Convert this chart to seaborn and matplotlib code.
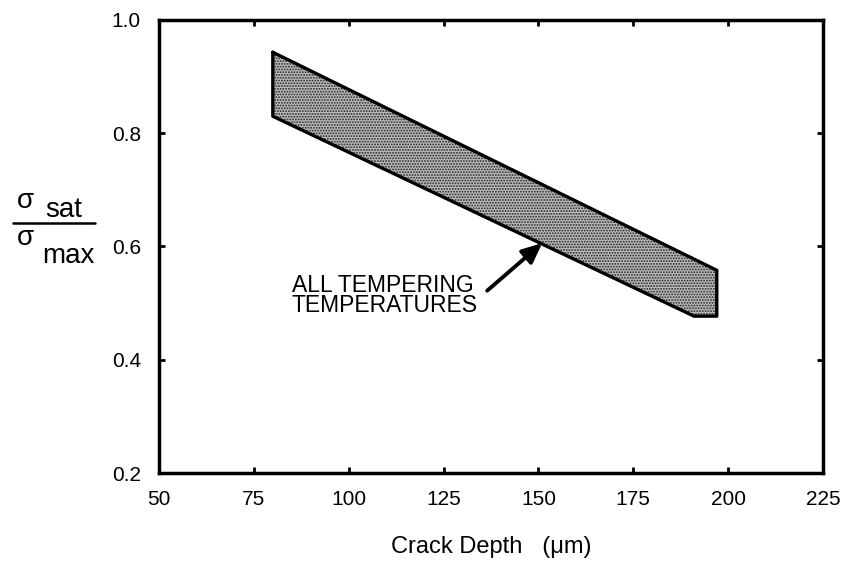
import matplotlib
matplotlib.use("Agg")
import matplotlib.pyplot as plt
import seaborn as sns
import pandas as pd
from matplotlib.lines import Line2D

# Data
upper_x = [80, 197]
upper_y = [0.943, 0.558]
lower_x = [80, 191, 197]
lower_y = [0.830, 0.477, 0.477]
x_ticks = [50, 75, 100, 125, 150, 175, 200, 225]
y_ticks = [0.2, 0.4, 0.6, 0.8, 1.0]
annot_text = "ALL TEMPERING\nTEMPERATURES"
annot_xy = (151, 0.606)
arrow_tail = (136.5, 0.522)
annot_text_xy = (85, 0.513)

sns.set_theme(style="ticks")
plt.rcParams['font.family'] = ['Liberation Sans', 'DejaVu Sans']
plt.rcParams['text.color'] = 'black'
plt.rcParams['axes.labelcolor'] = 'black'
plt.rcParams['xtick.color'] = 'black'
plt.rcParams['ytick.color'] = 'black'
plt.rcParams['hatch.linewidth'] = 0.9

fig = plt.figure(figsize=(8.47, 5.66), dpi=100)
ax = fig.add_axes([0.1877, 0.1643, 0.784, 0.8004])

# polygon of the band
poly_x = upper_x + lower_x[::-1]
poly_y = upper_y + lower_y[::-1]
ax.fill(poly_x, poly_y, facecolor="#bababa", edgecolor="#222222",
        linewidth=0, hatch="......", zorder=2)
outline = pd.DataFrame({"x": poly_x + [poly_x[0]], "y": poly_y + [poly_y[0]]})
sns.lineplot(data=outline, x="x", y="y", sort=False, estimator=None,
             color="black", linewidth=2.4, ax=ax, zorder=3)

ax.set_xlim(50, 225)
ax.set_ylim(0.2, 1.0)
ax.set_xticks(x_ticks)
ax.set_xticklabels([str(t) for t in x_ticks])
ax.set_yticks(y_ticks)
ax.set_yticklabels([f"{t:.1f}" for t in y_ticks])
ax.tick_params(direction="in", length=4, width=2, top=True, right=True,
               labelsize=15)
ax.tick_params(axis="x", pad=12)
ax.tick_params(axis="y", pad=13)
for s in ax.spines.values():
    s.set_linewidth(2.5)
    s.set_color("black")
ax.set_xlabel("Crack Depth   (μm)", fontsize=17, labelpad=20)
ax.set_ylabel("")

ax.text(annot_text_xy[0], annot_text_xy[1], annot_text, fontsize=16.5,
        ha="left", va="center", linespacing=0.85)
ax.annotate("", xy=annot_xy, xytext=arrow_tail,
            arrowprops=dict(arrowstyle="-|>,head_length=1.0,head_width=0.45",
                            color="black", lw=2.8, shrinkA=0, shrinkB=0))

# fraction-style y label
fig.text(0.040, 0.6325, "σ", fontsize=20, ha="right", va="baseline")
fig.text(0.053, 0.6166, "sat", fontsize=20, ha="left", va="baseline")
fig.add_artist(Line2D([0.0153, 0.112], [0.606, 0.606], color="black", lw=1.8,
                      transform=fig.transFigure))
fig.text(0.040, 0.567, "σ", fontsize=20, ha="right", va="baseline")
fig.text(0.0496, 0.535, "max", fontsize=20, ha="left", va="baseline")

fig.savefig("out.png", dpi=100)
